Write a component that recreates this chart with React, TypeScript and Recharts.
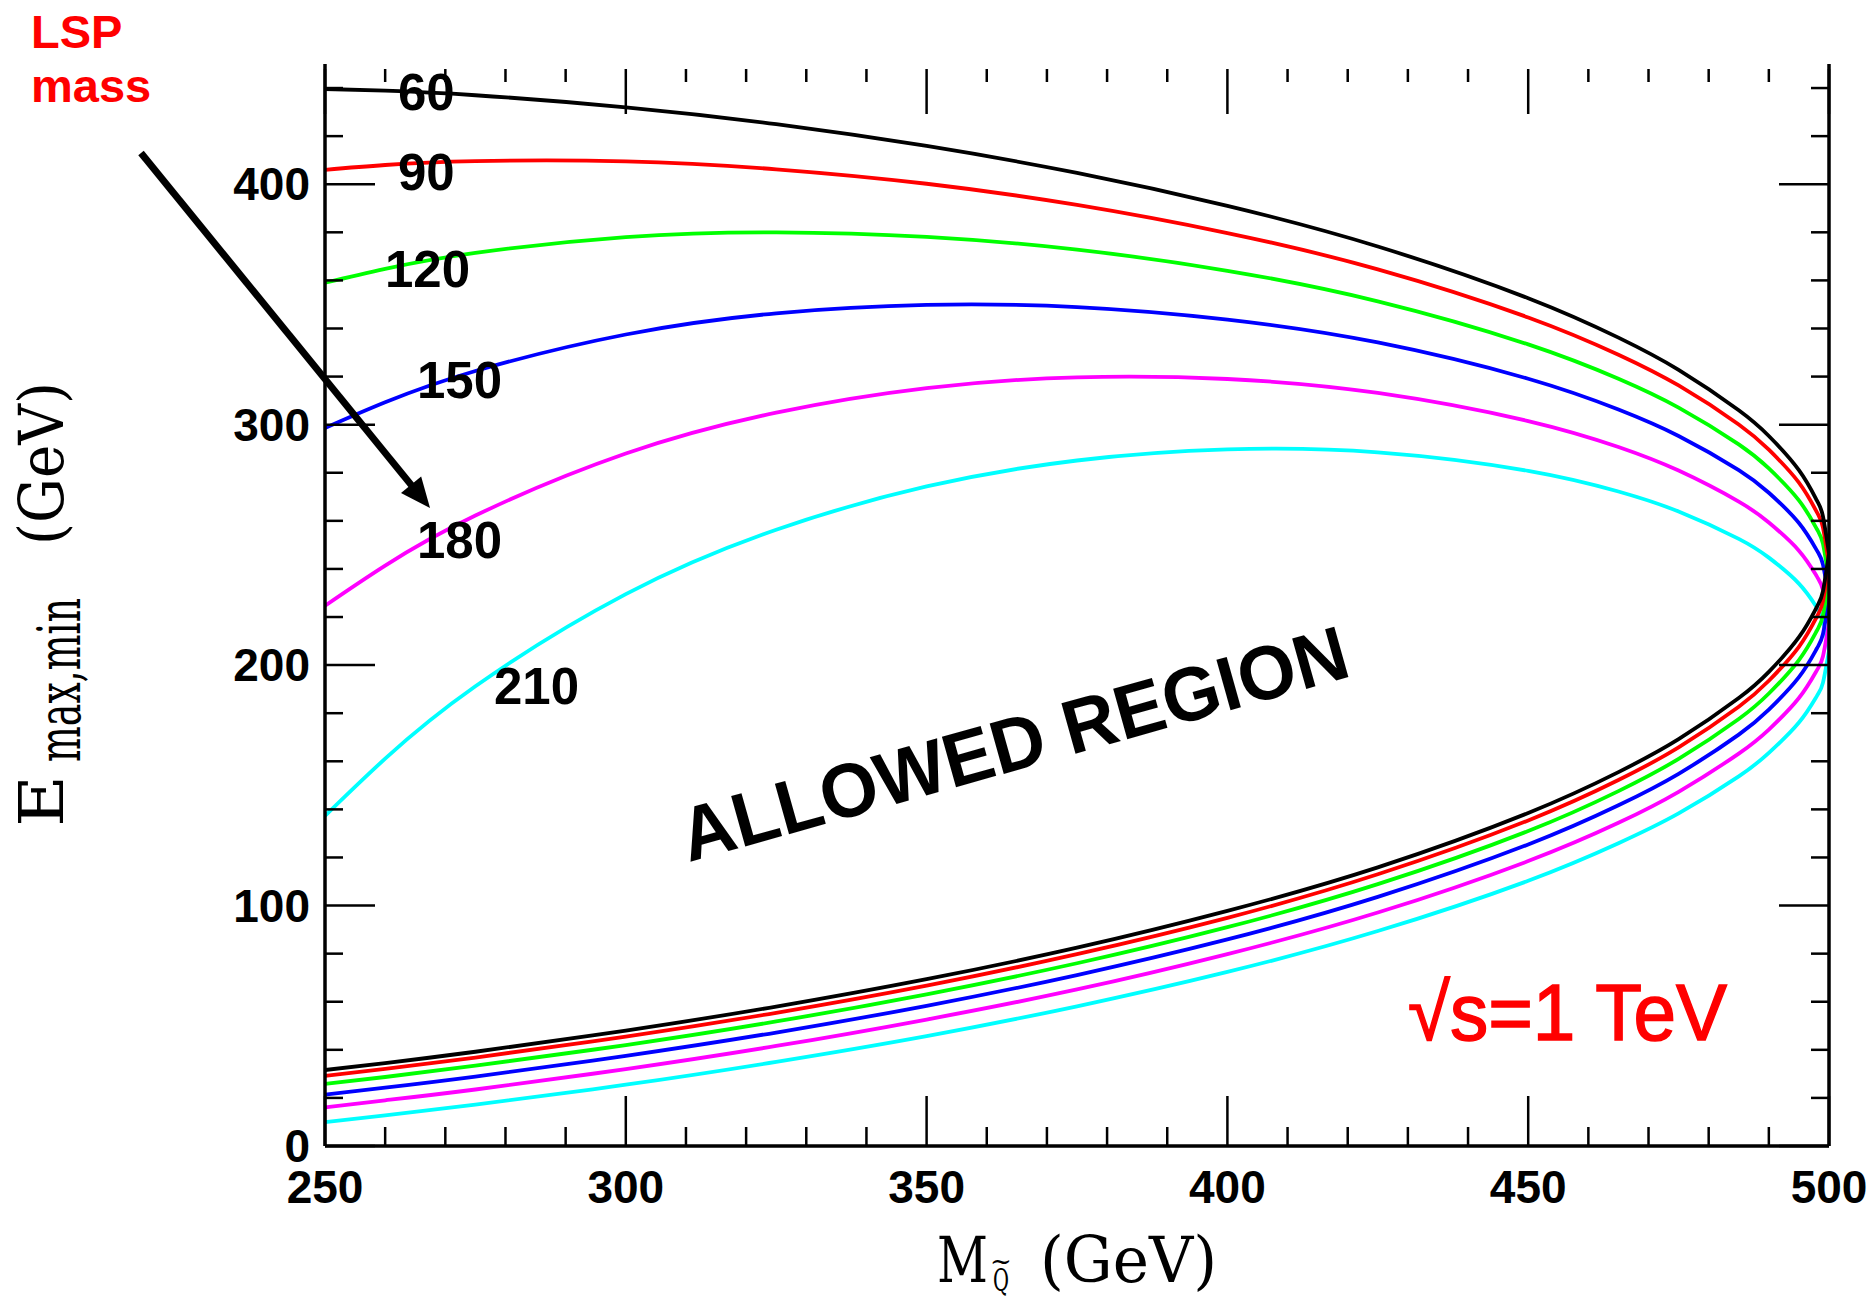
import { LineChart, Line, XAxis, YAxis } from "recharts"

// squark mass (GeV) sample points
const squarkMass = [250, 260, 275, 300, 325, 350, 375, 400, 425, 450, 465, 475, 485, 490, 495, 498, 499, 500]

// E_max (upper branch) and E_min (lower branch) per LSP mass
const upper60 = [439.6, 438.9, 437.0, 432.0, 425.0, 415.9, 404.7, 391.0, 374.1, 352.6, 336.2, 322.8, 306.0, 295.3, 281.1, 268.4, 261.9, 246.4]
const lower60 = [31.6, 34.5, 39.2, 48.0, 58.0, 69.4, 82.5, 97.8, 115.9, 138.5, 155.5, 169.2, 186.3, 197.2, 211.6, 224.3, 230.8, 246.4]
const upper90 = [406.0, 408.0, 409.6, 409.5, 406.2, 400.2, 391.4, 379.7, 364.6, 344.6, 329.1, 316.3, 300.1, 289.6, 275.9, 263.5, 257.2, 241.9]
const lower90 = [29.2, 32.1, 36.8, 45.5, 55.4, 66.7, 79.8, 94.9, 113.0, 135.4, 152.2, 165.8, 182.7, 193.5, 207.6, 220.2, 226.6, 241.9]
const upper120 = [359.0, 364.8, 371.4, 378.0, 380.0, 378.1, 372.8, 364.0, 351.3, 333.4, 319.1, 307.1, 291.8, 281.8, 268.5, 256.5, 250.4, 235.6]
const lower120 = [25.8, 28.7, 33.4, 42.0, 51.8, 63.1, 76.0, 91.0, 108.9, 131.0, 147.6, 161.0, 177.6, 188.2, 202.1, 214.4, 220.7, 235.6]
const upper150 = [298.6, 309.3, 322.3, 337.5, 346.3, 349.8, 348.9, 343.7, 334.2, 319.1, 306.3, 295.3, 281.1, 271.7, 259.1, 247.6, 241.8, 227.5]
const lower150 = [21.4, 24.3, 28.9, 37.5, 47.2, 58.3, 71.1, 85.9, 103.6, 125.4, 141.7, 154.8, 171.1, 181.5, 195.0, 207.0, 213.0, 227.5]
const upper180 = [224.7, 241.4, 262.2, 288.0, 305.0, 315.2, 319.7, 319.0, 313.2, 301.5, 290.7, 280.9, 268.0, 259.3, 247.6, 236.8, 231.2, 217.6]
const lower180 = [16.1, 19.0, 23.5, 32.0, 41.6, 52.6, 65.1, 79.8, 97.1, 118.5, 134.4, 147.3, 163.2, 173.2, 186.3, 197.9, 203.7, 217.6]
const upper210 = [137.3, 161.1, 191.2, 229.5, 256.3, 274.3, 285.1, 289.7, 288.5, 280.8, 272.2, 263.9, 252.5, 244.7, 233.9, 223.9, 218.7, 205.9]
const lower210 = [9.9, 12.7, 17.2, 25.5, 35.0, 45.7, 58.1, 72.4, 89.4, 110.3, 125.9, 138.3, 153.7, 163.5, 176.1, 187.2, 192.7, 205.9]

const lspMasses = [210, 180, 150, 120, 90, 60]
const xTicks = [250, 260, 270, 280, 290, 300, 310, 320, 330, 340, 350, 360, 370, 380, 390, 400, 410, 420, 430, 440, 450, 460, 470, 480, 490, 500]
const yTicks = [0, 20, 40, 60, 80, 100, 120, 140, 160, 180, 200, 220, 240, 260, 280, 300, 320, 340, 360, 380, 400, 420, 440]

const branches: Record<number, [number[], number[]]> = {
  60: [upper60, lower60],
  90: [upper90, lower90],
  120: [upper120, lower120],
  150: [upper150, lower150],
  180: [upper180, lower180],
  210: [upper210, lower210],
}

const lineColors: Record<number, string> = {
  60: "#000000",
  90: "#ff0000",
  120: "#00ff00",
  150: "#0000ff",
  180: "#ff00ff",
  210: "#00ffff",
}

// label spots for the LSP-mass numbers (pixels)
const massLabelPos: Record<number, [number, number]> = {
  60: [398, 110],
  90: [398, 190],
  120: [385, 287],
  150: [417, 398],
  180: [417, 558],
  210: [494, 704],
}

const rows = squarkMass.map((x, i) => {
  const r: Record<string, number> = { x }
  lspMasses.forEach((m) => {
    r[`u${m}`] = branches[m][0][i]
    r[`l${m}`] = branches[m][1][i]
  })
  return r
})

const tickFont = { fontFamily: "Liberation Sans, Arial, sans-serif", fontWeight: 700, fontSize: 46 }
const serif = "DejaVu Serif, serif"

function BottomTick(props: any) {
  const { x, y, payload } = props
  const major = payload.value % 50 === 0
  return (
    <g>
      <line x1={x} x2={x} y1={y} y2={y - (major ? 50 : 19)} stroke="#000" strokeWidth={2.5} />
      {major && (
        <text x={x} y={y + 57} textAnchor="middle" fill="#000" {...tickFont}>
          {payload.value}
        </text>
      )}
    </g>
  )
}

function TopTick(props: any) {
  const { x, y, payload } = props
  const major = payload.value % 50 === 0
  return <line x1={x} x2={x} y1={y + 5} y2={y + (major ? 50 : 18)} stroke="#000" strokeWidth={2.5} />
}

function LeftTick(props: any) {
  const { x, y, payload } = props
  const major = payload.value % 100 === 0
  return (
    <g>
      <line x1={x} x2={x + (major ? 50 : 18)} y1={y} y2={y} stroke="#000" strokeWidth={2.5} />
      {major && (
        <text x={x - 15} y={y + 16} textAnchor="end" fill="#000" {...tickFont}>
          {payload.value}
        </text>
      )}
    </g>
  )
}

function RightTick(props: any) {
  const { x, y, payload } = props
  const major = payload.value % 100 === 0
  return <line x1={x} x2={x - (major ? 50 : 18)} y1={y} y2={y} stroke="#000" strokeWidth={2.5} />
}

function Annotations() {
  // arrow from the "LSP mass" note down to the curve labels
  const x0 = 141, y0 = 153, tx = 430, ty = 508
  const len = Math.hypot(tx - x0, ty - y0)
  const ux = (tx - x0) / len, uy = (ty - y0) / len
  const hl = 30, hw = 13
  const bx = tx - ux * hl, by = ty - uy * hl
  const head = `${tx},${ty} ${bx + uy * hw},${by - ux * hw} ${bx - uy * hw},${by + ux * hw}`
  const bold = { fontFamily: "Liberation Sans, Arial, sans-serif", fontWeight: 700 }

  return (
    <svg width={1874} height={1302} style={{ position: "absolute", left: 0, top: 0, pointerEvents: "none" }}>
      <text x={31} y={48} fill="#ff0000" fontSize={47} {...bold}>LSP</text>
      <text x={31} y={102} fill="#ff0000" fontSize={47} {...bold}>mass</text>
      <line x1={x0} y1={y0} x2={bx + ux * 4} y2={by + uy * 4} stroke="#000" strokeWidth={7} />
      <polygon points={head} fill="#000" />

      {lspMasses.map((m) => (
        <text key={m} x={massLabelPos[m][0]} y={massLabelPos[m][1]} fill="#000" fontSize={51} {...bold}>
          {m}
        </text>
      ))}

      <text
        x={1021}
        y={769}
        textAnchor="middle"
        transform="rotate(-15.7 1021 769)"
        fill="#000"
        fontSize={76}
        textLength={690}
        lengthAdjust="spacingAndGlyphs"
        {...bold}
      >
        ALLOWED REGION
      </text>

      <text
        x={1408}
        y={1040}
        fill="#ff0000"
        stroke="#ff0000"
        strokeWidth={1.5}
        fontSize={80}
        fontFamily="Liberation Sans, Arial, sans-serif"
        textLength={319}
        lengthAdjust="spacingAndGlyphs"
      >
        √s=1 TeV
      </text>

      {/* x axis title: M with subscript Q-tilde */}
      <text x={937} y={1282} fontFamily={serif} fontSize={64} textLength={51} lengthAdjust="spacingAndGlyphs">M</text>
      <text x={993} y={1291} fontFamily={serif} fontSize={31} textLength={16} lengthAdjust="spacingAndGlyphs">Q</text>
      <text x={1001} y={1270} textAnchor="middle" fontFamily={serif} fontSize={26}>~</text>
      <text x={1040} y={1282} fontFamily={serif} fontSize={64} textLength={177} lengthAdjust="spacingAndGlyphs">(GeV)</text>

      {/* y axis title */}
      <g transform="rotate(-90)">
        <text x={-827} y={63} fontFamily={serif} fontSize={62} textLength={52} lengthAdjust="spacingAndGlyphs">E</text>
        <text x={-762} y={80} fontFamily={serif} fontSize={60} textLength={164} lengthAdjust="spacingAndGlyphs">max,min</text>
        <text x={-545} y={63} fontFamily={serif} fontSize={62} textLength={163} lengthAdjust="spacingAndGlyphs">(GeV)</text>
      </g>
    </svg>
  )
}

export default function App() {
  return (
    <div style={{ position: "absolute", left: 0, top: 0, width: 1874, height: 1302, background: "#fff" }}>
      <LineChart width={1874} height={1302} data={rows} margin={{ top: 63, right: 44, bottom: 0, left: 0 }}>
        <XAxis
          dataKey="x"
          type="number"
          domain={[250, 500]}
          ticks={xTicks}
          interval={0}
          height={156}
          tickSize={0}
          tickMargin={0}
          tickLine={false}
          axisLine={{ stroke: "#000", strokeWidth: 3.5 }}
          tick={<BottomTick />}
          allowDataOverflow
        />
        <XAxis
          xAxisId="top"
          orientation="top"
          dataKey="x"
          type="number"
          domain={[250, 500]}
          ticks={xTicks}
          interval={0}
          height={1}
          tickSize={0}
          tickMargin={0}
          tickLine={false}
          axisLine={false}
          tick={<TopTick />}
          allowDataOverflow
        />
        <YAxis
          type="number"
          domain={[0, 450]}
          ticks={yTicks}
          interval={0}
          width={325}
          tickSize={0}
          tickMargin={0}
          tickLine={false}
          axisLine={{ stroke: "#000", strokeWidth: 3.5 }}
          tick={<LeftTick />}
          allowDataOverflow
        />
        <YAxis
          yAxisId="right"
          orientation="right"
          type="number"
          domain={[0, 450]}
          ticks={yTicks}
          interval={0}
          width={1}
          tickSize={0}
          tickMargin={0}
          tickLine={false}
          axisLine={{ stroke: "#000", strokeWidth: 3.5 }}
          tick={<RightTick />}
          allowDataOverflow
        />
        {lspMasses.map((m) => (
          <Line
            key={`u${m}`}
            dataKey={`u${m}`}
            type="natural"
            stroke={lineColors[m]}
            strokeWidth={3.8}
            dot={false}
            isAnimationActive={false}
          />
        ))}
        {lspMasses.map((m) => (
          <Line
            key={`l${m}`}
            dataKey={`l${m}`}
            type="natural"
            stroke={lineColors[m]}
            strokeWidth={3.8}
            dot={false}
            isAnimationActive={false}
          />
        ))}
      </LineChart>
      <Annotations />
    </div>
  )
}
